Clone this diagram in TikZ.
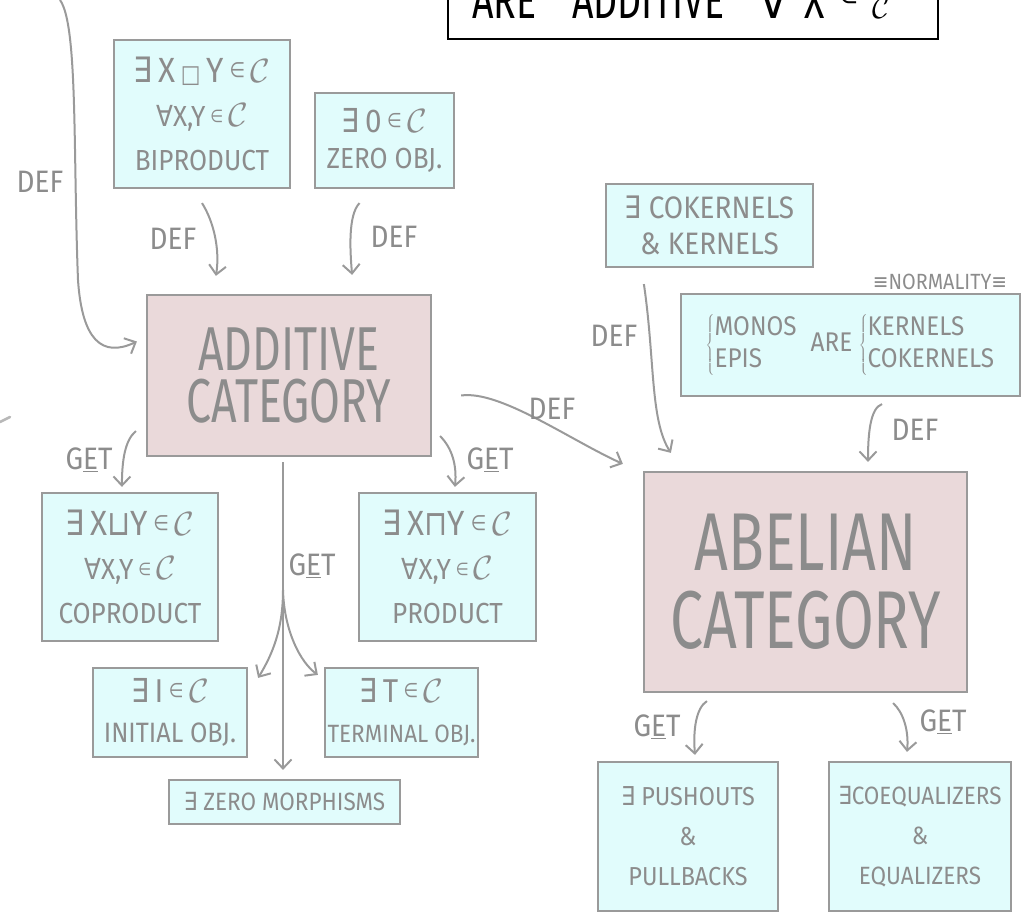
\documentclass[tikz,border=0pt]{standalone}
\usepackage{fontspec}
\setmainfont{Fira Sans}[FakeStretch=0.9]
\newfontfamily\bigf{Fira Sans}[FakeStretch=0.72]
\newfontfamily\symf{DejaVu Sans}[FakeStretch=0.85]
\usepackage{graphicx}
\usetikzlibrary{arrows.meta}
\definecolor{ink}{HTML}{8C8C8C}
\definecolor{edgegray}{HTML}{9A9A9A}
\definecolor{cyanfill}{HTML}{E1FCFC}
\definecolor{pinkfill}{HTML}{EAD9DA}
\newcommand{\hEx}{{\symf ∃}}
\newcommand{\hAll}{{\symf ∀}}
\newcommand{\hIn}{\,\raisebox{0.15em}{\scalebox{0.6}{\symf ∈}}\,}
\newcommand{\hCat}{\scalebox{1.35}{$\mathcal{C}$}}
\newcommand{\hSq}{\,\scalebox{0.7}{\symf □}\,}
\newcommand{\hCup}{{\symf ⊔}}
\newcommand{\hCap}{{\symf ⊓}}
\newcommand{\hEquiv}{{\symf ≡}}
\tikzset{
  boxbase/.style={draw=edgegray, line width=2.2pt, align=center, text=ink, inner sep=0pt},
  cbox/.style={boxbase, fill=cyanfill},
  pbox/.style={boxbase, fill=pinkfill},
  lbl/.style={text=ink, font=\fontsize{31}{31}\selectfont, inner sep=0pt},
  arr/.style={draw=edgegray, line width=2pt, -{Straight Barb[length=9pt,width=17pt]}},
}
\begin{document}
\begin{tikzpicture}[x=1pt,y=-1pt]
\useasboundingbox (0,0) rectangle (1026,912);
\clip (0,0) rectangle (1026,912);

% top box (cut off)
\node[draw=black, line width=2pt, minimum width=490pt, minimum height=100pt, anchor=south, inner sep=0pt] (topbox) at (693,40) {};
\node[anchor=base west, text=black, font=\bigf\fontsize{52}{52}\selectfont, inner sep=0pt] (toptext) at (472,19)
  {ARE\hspace{36pt}ADDITIVE\hspace{34pt}\hAll\hspace{16pt}X\hspace{14pt}\raisebox{0.3em}{\scalebox{0.5}{\symf ∈}}\hspace{14pt}\scalebox{1.2}{$\mathcal{C}$}};

% nodes
\node[cbox, minimum width=176pt, minimum height=148pt, font=\fontsize{29}{44}\selectfont] (bip) at (202,114)
  {{\fontsize{35}{44}\selectfont\hEx\,X\hSq Y\hIn\hCat}\\ \hAll X,Y\hIn\hCat\\ BIPRODUCT};
\node[cbox, minimum width=139pt, minimum height=95pt, font=\fontsize{29}{36}\selectfont] (zero) at (384.5,140.5)
  {{\fontsize{33}{36}\selectfont\hEx\,0\hIn\hCat}\\ ZERO OBJ.};
\node[pbox, minimum width=284pt, minimum height=161pt, font=\bigf\fontsize{62}{52}\selectfont] (add) at (289,375.5)
  {ADDITIVE\\ CATEGORY};
\node[cbox, minimum width=176pt, minimum height=148pt, font=\fontsize{29}{44}\selectfont] (cop) at (130,567)
  {{\fontsize{35}{44}\selectfont\hEx\,X\hCup Y\hIn\hCat}\\ \hAll X,Y\hIn\hCat\\ COPRODUCT};
\node[cbox, minimum width=177pt, minimum height=148pt, font=\fontsize{29}{44}\selectfont] (prod) at (447.5,567)
  {{\fontsize{35}{44}\selectfont\hEx\,X\hCap Y\hIn\hCat}\\ \hAll X,Y\hIn\hCat\\ PRODUCT};
\node[cbox, minimum width=154pt, minimum height=89pt, font=\fontsize{28}{40}\selectfont] (init) at (170,712.5)
  {{\fontsize{33}{40}\selectfont\hEx\,I\hIn\hCat}\\ INITIAL OBJ.};
\node[cbox, minimum width=153pt, minimum height=89pt, font=\fontsize{25}{40}\selectfont] (term) at (401.5,712.5)
  {{\fontsize{33}{40}\selectfont\hEx\,T\hIn\hCat}\\ TERMINAL OBJ.};
\node[cbox, minimum width=231pt, minimum height=44pt, font=\fontsize{25}{26}\selectfont] (zm) at (284.5,802)
  {\hEx\ ZERO MORPHISMS};
\node[cbox, minimum width=207pt, minimum height=83pt, font=\fontsize{31}{36}\selectfont] (coker) at (709.5,225.5)
  {\hEx\ COKERNELS\\ \& KERNELS};
\node[cbox, minimum width=339pt, minimum height=102pt, font=\fontsize{27}{32}\selectfont] (norm) at (850.5,345)
  {$\left\{\vcenter{\hbox{\begin{tabular}{@{}l@{}}MONOS\\EPIS\end{tabular}}}\right.$\ \ ARE\ $\left\{\vcenter{\hbox{\begin{tabular}{@{}l@{}}KERNELS\\COKERNELS\end{tabular}}}\right.$};
\node[lbl, font=\fontsize{22}{22}\selectfont] (normlbl) at (940,282) {\hEquiv NORMALITY\hEquiv};
\node[pbox, minimum width=323pt, minimum height=220pt, font=\bigf\fontsize{82}{78}\selectfont] (abel) at (805.5,582)
  {ABELIAN\\ CATEGORY};
\node[cbox, minimum width=180pt, minimum height=149pt, font=\fontsize{26}{40}\selectfont] (push) at (688,836.5)
  {\hEx\ PUSHOUTS\\ \&\\ PULLBACKS};
\node[cbox, minimum width=182pt, minimum height=149pt, font=\fontsize{25}{40}\selectfont] (coeq) at (920,836.5)
  {\hEx COEQUALIZERS\\ \&\\ EQUALIZERS};

% free coordinates
\coordinate (lefttop) at (60,0);
\coordinate (split) at (283,590);

% connectors
\draw[arr] (lefttop) .. controls (78,25) and (73,150) .. (78,280)
  .. controls (82,340) and (102,358) .. ([xshift=-9pt,yshift=34pt]add.west);
\draw[arr] ([yshift=-14pt]bip.south) .. controls (214,222) and (220,250) .. ([xshift=70pt,yshift=18pt]add.north west);
\draw[arr] ([xshift=-25pt,yshift=-14pt]zero.south) .. controls (348,215) and (350,250) .. ([xshift=-80pt,yshift=19pt]add.north east);
\draw[arr] ([xshift=-10pt,yshift=26pt]add.south west) .. controls (125,440) and (122,460) .. ([xshift=81pt,yshift=5pt]cop.north west);
\draw[arr] ([xshift=8pt,yshift=21pt]add.south east) .. controls (452,448) and (457,465) .. ([xshift=97pt,yshift=5pt]prod.north west);
\draw[arr] ([xshift=-6pt,yshift=-5pt]add.south) -- ([xshift=-1.5pt,yshift=9pt]zm.north);
\draw[arr] (split) .. controls (283,630) and (272,655) .. ([xshift=10pt,yshift=-11pt]init.north east);
\draw[arr] (split) .. controls (284,630) and (300,662) .. ([xshift=-6pt,yshift=-8pt]term.north west);
\draw[arr] ([xshift=29pt,yshift=-20pt]add.east) .. controls (500,390) and (570,440) .. ([xshift=-20pt,yshift=7pt]abel.north west);
\draw[arr] ([xshift=39pt,yshift=-16pt]coker.south west) .. controls (655,360) and (650,420) .. ([xshift=28pt,yshift=18pt]abel.north west);
\draw[arr] ([xshift=31.5pt,yshift=-7pt]norm.south) .. controls (870,408) and (868,435) .. ([xshift=62.5pt,yshift=9pt]abel.north);
\draw[arr] ([xshift=64pt,yshift=-8pt]abel.south west) .. controls (696,708) and (693,730) .. ([xshift=7pt,yshift=6pt]push.north);
\draw[arr] ([xshift=-75pt,yshift=-10pt]abel.south east) .. controls (903,712) and (909,730) .. ([xshift=-13pt,yshift=9pt]coeq.north);

% labels
\node[lbl] (l1) at (40,182) {DEF};
\node[lbl] (l2) at (173,239) {DEF};
\node[lbl] (l3) at (394,237) {DEF};
\node[lbl] (l4) at (89,460) {G\underline{E}T};
\node[lbl] (l5) at (490,460) {G\underline{E}T};
\node[lbl] (l6) at (312,566) {G\underline{E}T};
\node[lbl] (l7) at (552,409) {DEF};
\node[lbl] (l8) at (614,336) {DEF};
\node[lbl] (l9) at (915,430) {DEF};
\node[lbl] (l10) at (657,727) {G\underline{E}T};
\node[lbl] (l11) at (943,722) {G\underline{E}T};

% stray mark at left edge
\draw[color=edgegray!70, line width=2.5pt, line cap=round] (0,422) -- (10,417);
\end{tikzpicture}
\end{document}
